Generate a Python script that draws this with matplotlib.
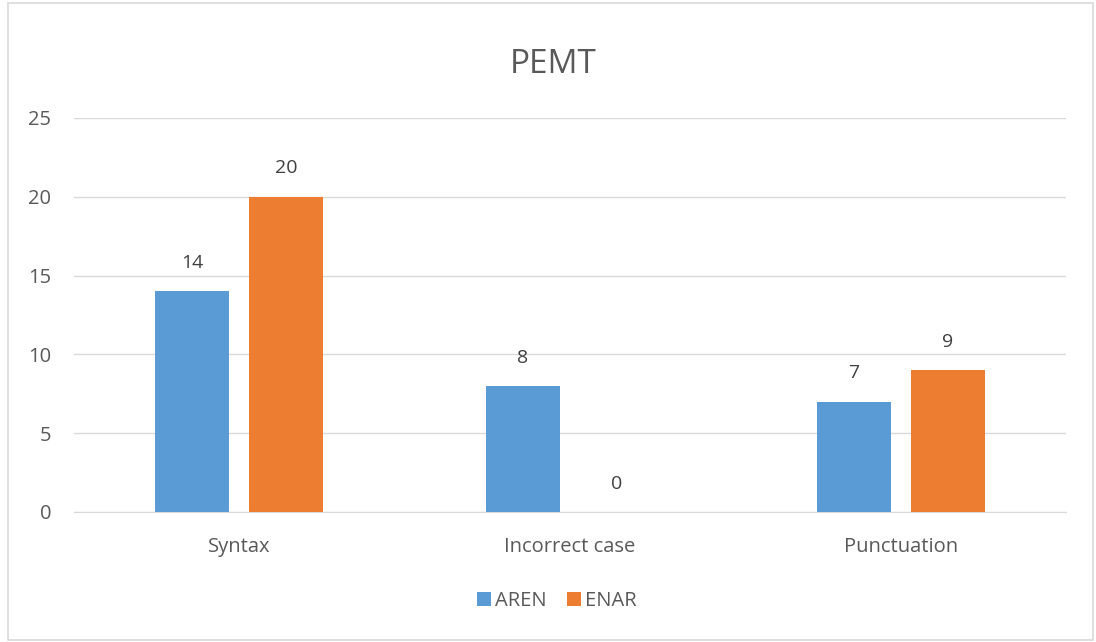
import numpy as np
import matplotlib
matplotlib.use("Agg")
from matplotlib import pyplot as plt
from matplotlib.patches import Rectangle

# データ
categories = ["Syntax", "Incorrect case", "Punctuation"]
aren = [14, 8, 7]
enar = [20, 0, 9]
series_names = ["AREN", "ENAR"]
yticks = [0, 5, 10, 15, 20, 25]

txt_color = "#595959"
plt.rcParams['font.family'] = ['Open Sans', 'DejaVu Sans']

fig = plt.figure(figsize=(10.96, 6.42), dpi=100)
ax = fig.add_axes([0.0671, 0.2025, 0.9056, 0.6137])

# 外枠
fig.patches.append(Rectangle((0.007, 0.003), 0.99, 0.993, transform=fig.transFigure,
                             fill=False, edgecolor="#D9D9D9", linewidth=1.2))

x = np.arange(len(categories))
w = 0.2236
gap = 0.06
b1 = ax.bar(x - (w + gap) / 2, aren, w, color="#5B9BD5", label=series_names[0], zorder=3)
b2 = ax.bar(x + (w + gap) / 2, enar, w, color="#ED7D31", label=series_names[1], zorder=3)

for bars in (b1, b2):
    for r in bars:
        ax.text(r.get_x() + r.get_width() / 2, r.get_height() + 1.8, str(int(r.get_height())),
                ha="center", va="center", fontsize=14, color="#404040")

ax.set_xlim(-0.5, len(categories) - 0.5)
ax.set_ylim(0, 25)
ax.set_yticks(yticks)
ax.set_xticks(x)
ax.set_xticklabels(categories)
ax.tick_params(axis="both", length=0, labelsize=14.5, colors=txt_color)
ax.tick_params(axis="y", pad=16)
ax.tick_params(axis="x", pad=18)
ax.yaxis.grid(True, color="#D9D9D9", linewidth=1, zorder=0)
for s in ["top", "right", "left"]:
    ax.spines[s].set_visible(False)
ax.spines["bottom"].set_color("#D9D9D9")

fig.text(0.505, 0.9, "PEMT", ha="center", va="center", fontsize=24, color=txt_color)

fig.legend(loc="center", bbox_to_anchor=(0.508, 0.064), ncol=2, frameon=False,
           fontsize=14.5, labelcolor=txt_color, handlelength=0.7, handleheight=0.7,
           handletextpad=0.2, columnspacing=1.0)

fig.savefig("out.png", dpi=100)
